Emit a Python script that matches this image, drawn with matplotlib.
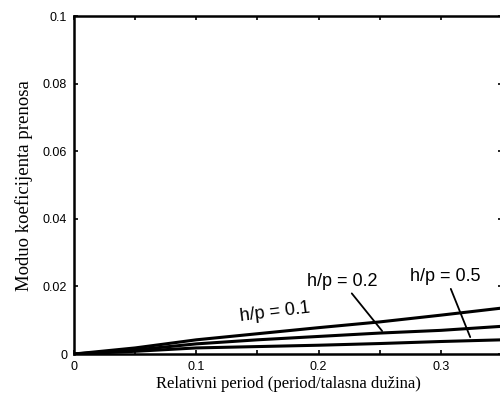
import numpy as np
import matplotlib
matplotlib.use('Agg')
import matplotlib.pyplot as plt
from matplotlib.ticker import MultipleLocator

# Relative period (x) and transfer coefficient modulus for each h/p
x_vals = [0.0, 0.05, 0.10, 0.15, 0.20, 0.25, 0.30, 0.35]
hp_01 = [0.0, 0.0018, 0.0042, 0.0060, 0.0078, 0.0095, 0.0115, 0.0136]
hp_02 = [0.0, 0.0012, 0.0030, 0.0042, 0.0052, 0.0062, 0.0070, 0.0082]
hp_05 = [0.0, 0.0008, 0.0018, 0.0022, 0.0026, 0.0031, 0.0037, 0.0042]

fig = plt.figure(figsize=(5.0, 3.94), dpi=100)
ax = fig.add_axes([0.148, 0.1015, 0.856, 0.8575])

for series in (hp_01, hp_02, hp_05):
    ax.plot(x_vals, series, color='black', linewidth=2.2, solid_capstyle='butt')

ax.set_xlim(0, 0.35)
ax.set_ylim(0, 0.1)
ax.xaxis.set_minor_locator(MultipleLocator(0.05))
ax.tick_params(which='both', direction='in', top=True, right=True,
               length=3, width=1.2, labelsize=9, pad=5)
ax.set_xticks([0, 0.1, 0.2, 0.3])
ax.set_xticklabels(['0', '0.1', '0.2', '0.3'], family='Liberation Sans')
ax.set_yticks([0, 0.02, 0.04, 0.06, 0.08, 0.1])
ax.set_yticklabels(['0', '0.02', '0.04', '0.06', '0.08', '0.1'], family='Liberation Sans')
for sp in ax.spines.values():
    sp.set_linewidth(1.8)

ax.set_xlabel('Relativni period (period/talasna dužina)', family='Liberation Serif',
              fontsize=12, labelpad=2)
ax.set_ylabel('Moduo koeficijenta prenosa', family='Liberation Serif',
              fontsize=13.5, labelpad=7)

# curve labels
ax.text(0.164, 0.0124, 'h/p = 0.1', family='Liberation Sans', fontsize=13,
        rotation=7, ha='center', va='center')
ax.annotate('h/p = 0.2', xy=(0.252, 0.0068), xytext=(0.219, 0.0216),
            family='Liberation Sans', fontsize=13, ha='center', va='center',
            arrowprops=dict(arrowstyle='-', color='black', lw=1.3, shrinkA=1, shrinkB=0))
ax.annotate('h/p = 0.5', xy=(0.324, 0.005), xytext=(0.304, 0.0230),
            family='Liberation Sans', fontsize=13, ha='center', va='center',
            arrowprops=dict(arrowstyle='-', color='black', lw=1.3, shrinkA=1, shrinkB=0))

fig.savefig('out.png', dpi=100)
